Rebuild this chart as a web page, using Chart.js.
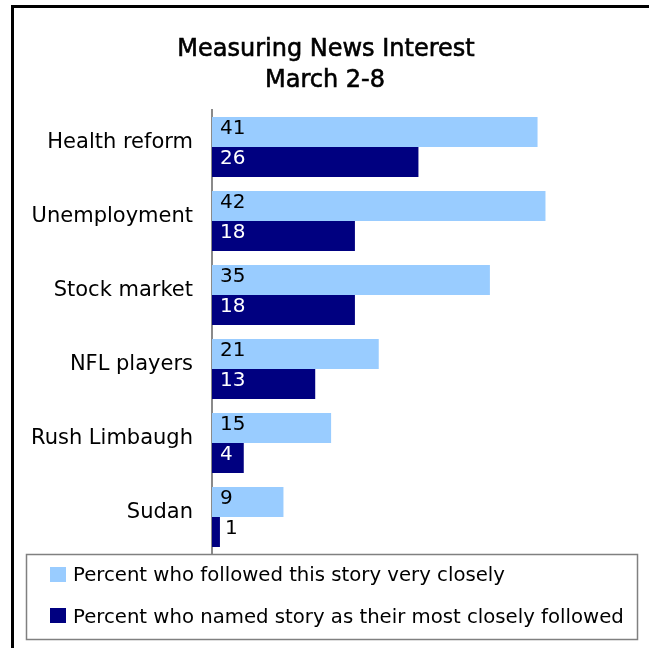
<!DOCTYPE html>
<html><head><meta charset="utf-8">
<script src="https://cdn.jsdelivr.net/npm/chart.js@4"></script>
<style>html,body{margin:0;padding:0;background:#fff;overflow:hidden}canvas{display:block}</style>
</head><body>
<canvas id="c" width="649" height="648"></canvas>
<script>
const categories = ['Health reform', 'Unemployment', 'Stock market', 'NFL players', 'Rush Limbaugh', 'Sudan'];
const veryClosely = [41, 42, 35, 21, 15, 9];
const mostClosely = [26, 18, 18, 13, 4, 1];
const seriesLabels = ['Percent who followed this story very closely', 'Percent who named story as their most closely followed'];
const titleLines = ['Measuring News Interest', 'March 2-8'];
const seriesColors = ['#99CCFF', '#000080'];

const FONT = '"DejaVu Sans", Verdana, sans-serif';

const decor = {
  id: 'decor',
  beforeDraw(chart) {
    const ctx = chart.ctx;
    ctx.save();
    ctx.fillStyle = '#fff';
    ctx.fillRect(0, 0, chart.width, chart.height);
    // outer frame (left + top visible)
    ctx.fillStyle = '#000';
    ctx.fillRect(11, 5, 3, chart.height - 5);
    ctx.fillRect(11, 5, chart.width - 11, 3);
    // titles
    ctx.fillStyle = '#000';
    ctx.strokeStyle = '#000';
    ctx.lineWidth = 0.6;
    ctx.textAlign = 'center';
    ctx.textBaseline = 'alphabetic';
    ctx.font = '24px ' + FONT;
    ctx.fillText(titleLines[0], 326, 56);
    ctx.strokeText(titleLines[0], 326, 56);
    ctx.fillText(titleLines[1], 325, 87);
    ctx.strokeText(titleLines[1], 325, 87);
    ctx.restore();
  },
  afterDatasetsDraw(chart) {
    const ctx = chart.ctx;
    ctx.save();
    ctx.font = '20px ' + FONT;
    ctx.textAlign = 'left';
    ctx.textBaseline = 'alphabetic';
    chart.data.datasets.forEach((ds, di) => {
      const meta = chart.getDatasetMeta(di);
      meta.data.forEach((el, i) => {
        const txt = String(ds.data[i]);
        const w = ctx.measureText(txt).width;
        const barLen = el.x - el.base;
        let x = el.base + 8;
        let color = di === 0 ? '#000' : '#fff';
        if (barLen < w + 12) { x = el.x + 5; color = '#000'; }
        ctx.fillStyle = color;
        ctx.fillText(txt, x, el.y + 2);
      });
    });
    ctx.restore();
  },
  afterDraw(chart) {
    const ctx = chart.ctx;
    ctx.save();
    ctx.strokeStyle = '#808080';
    ctx.lineWidth = 1.5;
    ctx.strokeRect(26.5, 554.5, 611, 85);
    ctx.font = '19.7px ' + FONT;
    ctx.textAlign = 'left';
    ctx.textBaseline = 'alphabetic';
    const tops = [567, 608];
    const bases = [581, 623];
    chart.data.datasets.forEach((ds, di) => {
      ctx.fillStyle = ds.backgroundColor;
      ctx.fillRect(50, tops[di], 16, 15);
      ctx.fillStyle = '#000';
      ctx.fillText(ds.label, 73, bases[di]);
    });
    ctx.restore();
  }
};

new Chart(document.getElementById('c'), {
  type: 'bar',
  data: {
    labels: categories,
    datasets: [
      { label: seriesLabels[0], data: veryClosely, backgroundColor: seriesColors[0] },
      { label: seriesLabels[1], data: mostClosely, backgroundColor: seriesColors[1] }
    ]
  },
  options: {
    indexAxis: 'y',
    responsive: false,
    animation: false,
    events: [],
    datasets: { bar: { categoryPercentage: 60 / 74, barPercentage: 1, borderWidth: 0 } },
    layout: { padding: { top: 110, bottom: 94, right: 40, left: 0 } },
    scales: {
      x: { display: false, min: 0, max: 50 },
      y: {
        afterFit(scale) { scale.width = 212; },
        grid: { display: false, drawTicks: false },
        border: { display: true, color: '#8a8a8a', width: 2 },
        ticks: { color: '#000', font: { family: FONT, size: 21 }, padding: 19, labelOffset: -4 }
      }
    },
    plugins: { legend: { display: false }, title: { display: false }, tooltip: { enabled: false } }
  },
  plugins: [decor]
});
</script>
</body></html>
